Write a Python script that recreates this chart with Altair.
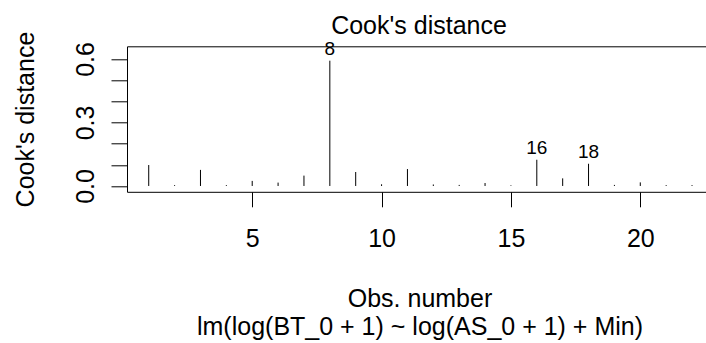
import altair as alt
import pandas as pd

# Cook's distance for each observation of lm(log(BT_0 + 1) ~ log(AS_0 + 1) + Min)
obs = list(range(1, 23))
cooks_d = [0.099, 0.004, 0.076, 0.004, 0.024, 0.016, 0.049, 0.592, 0.066, 0.008, 0.080,
           0.007, 0.005, 0.014, 0.003, 0.124, 0.036, 0.105, 0.005, 0.017, 0.004, 0.004]
flagged = [8, 16, 18]  # the three largest distances get an id label

y_ticks = [0.0, 0.1, 0.2, 0.3, 0.4, 0.5, 0.6]
x_ticks = [5, 10, 15, 20]

df = pd.DataFrame({"obs": obs, "cook": cooks_d})
df["label"] = [str(o) if o in flagged else "" for o in obs]

FONT = "Liberation Sans"
FS = 25
W, H = 579, 145.5

x_scale = alt.Scale(domain=[0.16, 22.54], nice=False, zero=False)
y_scale = alt.Scale(domain=[-0.0275, 0.660], nice=False, zero=False)

x_axis = alt.Axis(
    values=x_ticks, grid=False, tickSize=15, labelPadding=39.2,
    labelBaseline="alphabetic", labelFlush=False, labelFontSize=FS,
    title=["Obs. number", "lm(log(BT_0 + 1) ~ log(AS_0 + 1) + Min)"],
    titleFontSize=FS, titleFontWeight="normal", titleBaseline="alphabetic",
    titleLineHeight=27.8, titleX=292.5, titleY=114.7, titleAlign="center",
)
y_axis = alt.Axis(
    values=y_ticks, grid=False, tickSize=16, labelPadding=17.7,
    labelAngle=270, labelAlign="center", labelBaseline="alphabetic",
    labelFlush=False, labelOverlap=False, labelFontSize=FS,
    labelExpr="(abs(datum.value) < 1e-9 || abs(datum.value - 0.3) < 1e-9 || abs(datum.value - 0.6) < 1e-9) ? format(datum.value, '.1f') : ''",
    title="Cook's distance", titleFontSize=FS, titleFontWeight="normal",
    titleAngle=270, titleBaseline="alphabetic", titleAlign="center",
    titleX=-93.7, titleY=H / 2,
)
# the top edge of the frame, carrying the plot caption
top_axis = alt.Axis(
    orient="top", ticks=False, labels=False, grid=False, domain=True,
    title="Cook's distance", titleFontSize=FS, titleFontWeight="normal",
    titleBaseline="alphabetic", titleAlign="center", titleX=291.5, titleY=-13,
)

spikes = alt.Chart(df).mark_rule(color="black", strokeWidth=1).encode(
    x=alt.X("obs:Q", scale=x_scale, axis=x_axis),
    y=alt.Y("cook:Q", scale=y_scale, axis=y_axis),
    y2=alt.datum(0),
)

ids = alt.Chart(df).transform_filter("datum.label != ''").mark_text(
    font=FONT, fontSize=19, color="black", align="center",
    baseline="alphabetic", dy=-5.7,
).encode(
    x=alt.X("obs:Q", scale=x_scale, axis=top_axis),
    y=alt.Y("cook:Q", scale=y_scale, axis=None),
    text="label:N",
)

chart = (
    alt.layer(spikes, ids)
    .resolve_axis(x="independent", y="independent")
    .properties(
        width=W, height=H,
        autosize=alt.AutoSizeParams(type="none"),
        padding={"left": 127, "top": 46.3, "right": 0, "bottom": 343 - 46.3 - H},
        background="white",
    )
    .configure_view(stroke=None)
    .configure_axis(
        domainColor="black", tickColor="black", labelColor="black",
        titleColor="black", labelFont=FONT, titleFont=FONT,
        domainWidth=1, tickWidth=1,
    )
)

chart.save("out.html", embed_options={"renderer": "svg", "actions": False})
